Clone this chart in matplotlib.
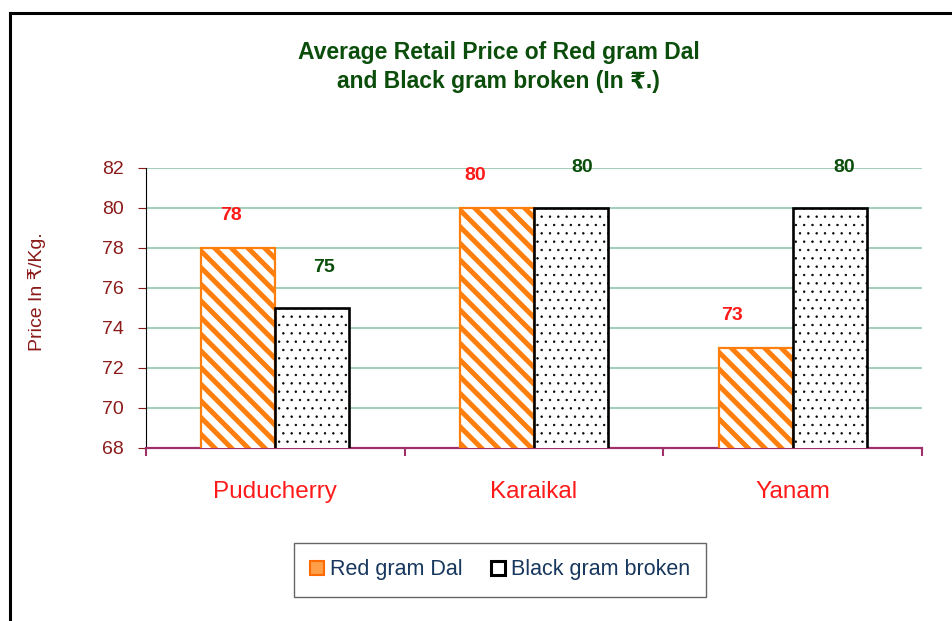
import numpy as np
import matplotlib.pyplot as plt
import matplotlib as mpl
from matplotlib.patches import Patch

regions = ['Puducherry', 'Karaikal', 'Yanam']
red_gram = [78, 80, 73]
black_gram = [75, 80, 80]
yticks = [68, 70, 72, 74, 76, 78, 80, 82]

# small label nudges (category units), as in the original sheet
red_nudge = [-0.03, -0.085, -0.09]
blk_nudge = [0.045, 0.045, 0.055]

plt.rcParams['font.family'] = ['Liberation Sans', 'DejaVu Sans']

fig = plt.figure(figsize=(9.52, 6.21), dpi=100)
ax = fig.add_axes([146/952, 1-448/621, (922-146)/952, (448-168)/621])

x = np.arange(len(regions))
w = 0.286

with mpl.rc_context({'hatch.linewidth': 3.6}):
    b1 = ax.bar(x - w/2, red_gram, w, color='white', edgecolor='#ff7f0e',
                hatch='\\\\', linewidth=1.6, zorder=3)
with mpl.rc_context({'hatch.linewidth': 0.5}):
    b2 = ax.bar(x + w/2, black_gram, w, color='white', edgecolor='black',
                hatch='..', linewidth=1.9, zorder=3)

for xi, v, d in zip(x, red_gram, red_nudge):
    ax.text(xi - w/2 + d, v + 1.65, str(v), ha='center', va='center', color='#ff1a1a',
            fontsize=14, fontweight='bold')
for xi, v, d in zip(x, black_gram, blk_nudge):
    ax.text(xi + w/2 + d, v + 2.0, str(v), ha='center', va='center', color='#0b4d0b',
            fontsize=14, fontweight='bold', clip_on=False)

ax.set_ylim(68, 82)
ax.set_xlim(-0.5, 2.5)
ax.set_yticks(yticks)
ax.tick_params(axis='y', colors='#8b1a1a', labelsize=14, direction='out', length=6, pad=10)
for t in ax.get_yticklines():
    t.set_color('#606060')
ax.set_xticks([-0.5, 0.5, 1.5, 2.5])
ax.set_xticklabels([])
ax.set_xticks(x, minor=True)
ax.set_xticklabels(regions, minor=True, fontsize=17.5, color='#ff1a1a')
ax.tick_params(axis='x', which='minor', length=0, pad=24)
ax.tick_params(axis='x', which='major', length=6, color='#a0306a', width=1.5)
ax.yaxis.grid(True, color='#99ccb3', linewidth=1.3, zorder=0)
ax.set_axisbelow(True)
for s in ['top', 'right']:
    ax.spines[s].set_visible(False)
ax.spines['bottom'].set_color('#a0306a')
ax.spines['bottom'].set_linewidth(1.6)
ax.spines['left'].set_color('black')

ax.set_ylabel('Price In ₹/Kg.', color='#8b1a1a', fontsize=14)
ax.yaxis.set_label_coords((46-146)/776, (448-292)/280)

fig.text(0.524, 1-67/621, 'Average Retail Price of Red gram Dal\nand Black gram broken (In ₹.)',
         ha='center', va='center', fontsize=16.5, fontweight='bold', color='#0b4d0b',
         linespacing=1.35)

handles = [Patch(facecolor='#ff9f4a', edgecolor='#ff6a00', linewidth=1.5),
           Patch(facecolor='white', edgecolor='black', linewidth=2.2)]
leg = fig.legend(handles, ['Red gram Dal', 'Black gram broken'], loc='center',
                 bbox_to_anchor=(500/952, 1-570/621), ncol=2, fontsize=15.5,
                 frameon=True, fancybox=False, edgecolor='#404040',
                 handlelength=0.65, handleheight=0.65, handletextpad=0.3,
                 columnspacing=1.3, borderpad=0.75)
leg.get_frame().set_linewidth(1.0)
for t in leg.get_texts():
    t.set_color('#17375e')

# outer frame
fig.add_artist(plt.Line2D([10/952, 1], [1-13/621, 1-13/621], color='black', lw=2.2,
                          transform=fig.transFigure))
fig.add_artist(plt.Line2D([10/952, 10/952], [0, 1-13/621], color='black', lw=2.2,
                          transform=fig.transFigure))

fig.savefig('out.png', dpi=100)
